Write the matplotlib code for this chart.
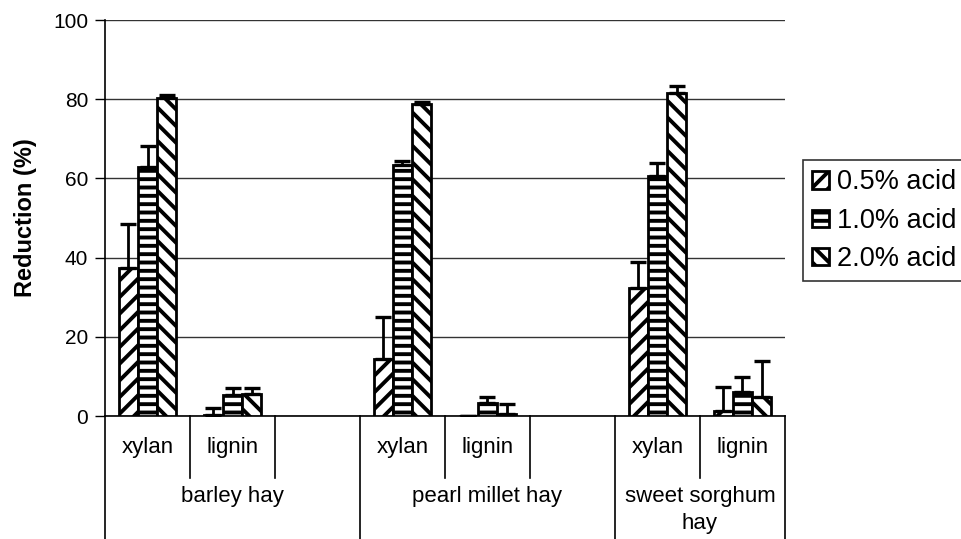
import numpy as np
import matplotlib
matplotlib.use("Agg")
import matplotlib.pyplot as plt

plt.rcParams['font.family'] = ['Liberation Sans', 'DejaVu Sans']
plt.rcParams['hatch.linewidth'] = 2.8

# slots along the category axis (empty slot = '')
components = ['xylan', 'lignin', '', 'xylan', 'lignin', '', 'xylan', 'lignin']
hays = ['barley hay', 'pearl millet hay', 'sweet sorghum\nhay']
hay_slots = [(0, 2), (3, 5), (6, 7)]
series = ['0.5% acid', '1.0% acid', '2.0% acid']

acid05 = [37.4, 0.3, np.nan, 14.5, 0.0, np.nan, 32.2, 1.2]
acid10 = [63.0, 5.2, np.nan, 63.5, 3.2, np.nan, 60.5, 6.1]
acid20 = [80.4, 5.5, np.nan, 78.8, 0.6, np.nan, 81.5, 4.8]
err05 = [11.0, 1.6, 0, 10.5, 0, 0, 6.6, 6.1]
err10 = [5.2, 1.8, 0, 0.9, 1.6, 0, 3.3, 3.7]
err20 = [0.6, 1.5, 0, 0.6, 2.4, 0, 1.8, 9.0]

values = [acid05, acid10, acid20]
errors = [err05, err10, err20]
hatches = ['//', '--', '\\\\']

fig = plt.figure(figsize=(9.62, 5.39), dpi=100)
ax = fig.add_axes([105/962, 1-416/539, 680/962, 396/539])

x = np.arange(len(components))
w = 0.225
for i in range(3):
    pos = x + (i - 1) * w
    ax.bar(pos, values[i], w, color='white', edgecolor='black', linewidth=2,
           hatch=hatches[i], label=series[i], zorder=3)
    up = np.array(errors[i])
    ax.errorbar(pos, values[i], yerr=[np.zeros_like(up), up], fmt='none',
                ecolor='black', elinewidth=2, capsize=6, capthick=2.4, zorder=4)

ax.set_xlim(-0.5, len(components) - 0.5)
ax.set_ylim(0, 100)
ax.set_yticks([0, 20, 40, 60, 80, 100])
ax.yaxis.grid(True, color='#333333', linewidth=1)
ax.set_axisbelow(True)
ax.tick_params(axis='y', labelsize=15, length=7, width=1, direction='out', pad=5)
ax.set_xticks([])
for s in ['top', 'right']:
    ax.spines[s].set_visible(False)
ax.spines['left'].set_linewidth(1.2)
ax.spines['bottom'].set_linewidth(1.2)
ax.set_ylabel('Reduction (%)', fontsize=17, fontweight='bold', labelpad=12)

# two-row category axis drawn under the plot
tr = ax.get_xaxis_transform()
row1 = -62/396
bottom = -123/396
ax.plot([-0.5, -0.5], [0, bottom], color='black', lw=1.2, transform=tr, clip_on=False)
for k in range(len(components)):
    edge = k + 0.5
    long_line = components[k] == '' or k == len(components) - 1
    ax.plot([edge, edge], [0, bottom if long_line else row1], color='black',
            lw=1.2, transform=tr, clip_on=False)
    if components[k]:
        ax.text(k, row1 / 2, components[k], transform=tr, ha='center',
                va='center', fontsize=16)
for name, (a, b) in zip(hays, hay_slots):
    ax.text((a + b) / 2, row1 - 0.02, name, transform=tr, ha='center',
            va='top', fontsize=16, linespacing=1.35)

leg = fig.legend(loc='upper left', bbox_to_anchor=(803/962, 1-160/539),
                 fontsize=19.5, frameon=True, fancybox=False, edgecolor='black',
                 handlelength=0.6, handleheight=0.6, handletextpad=0.3,
                 labelspacing=0.45, borderpad=0.35, borderaxespad=0)
leg.get_frame().set_linewidth(1.2)

fig.savefig('out.png', dpi=100)
